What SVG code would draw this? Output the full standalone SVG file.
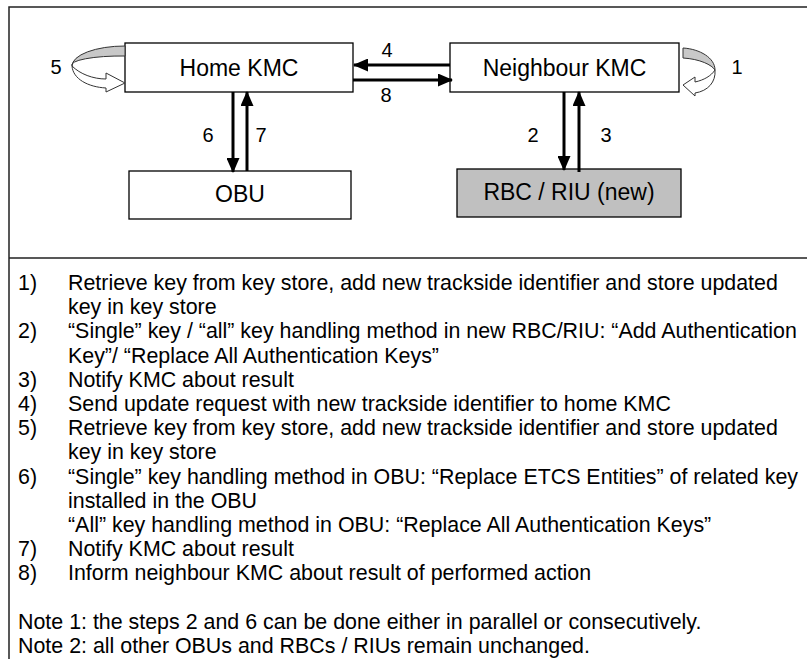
<svg xmlns="http://www.w3.org/2000/svg" width="807" height="659" viewBox="0 0 807 659">
<defs>
<marker id="ah" markerWidth="15" markerHeight="13" refX="14" refY="6.5" orient="auto" markerUnits="userSpaceOnUse" viewBox="0 0 15 13">
<path d="M0,0 L15,6.5 L0,13 Z" fill="#000"/>
</marker>
<style>
.frame{fill:none;stroke:#222;stroke-width:1.5}
.box{fill:#fff;stroke:#000;stroke-width:1.3}
.gray{fill:#c0c0c0}
.bt{font-family:"Liberation Sans",Arial,sans-serif;font-size:23px;fill:#000;text-anchor:middle}
.lb{font-family:"Liberation Sans",Arial,sans-serif;font-size:20px;fill:#000;text-anchor:middle}
.tx{font-family:"Liberation Sans",Arial,sans-serif;font-size:21.4px;fill:#000}
.conn{stroke:#000;stroke-width:3;fill:none}
.back{fill:#c8c8c8;stroke:#333;stroke-width:1}
.front{fill:#fff;stroke:#333;stroke-width:1}
</style>
</defs>
<g id="frame">
<path class="frame" d="M9,659 V7 H807 M9,258 H807"/>
</g>
<g id="home-kmc">
<rect class="box" x="125" y="43" width="228" height="49"/>
<text class="bt" x="239" y="76">Home KMC</text>
</g>
<g id="neighbour-kmc">
<rect class="box" x="450" y="43" width="229" height="49"/>
<text class="bt" x="564.5" y="76">Neighbour KMC</text>
</g>
<g id="obu">
<rect class="box" x="129" y="171" width="222" height="48"/>
<text class="bt" x="240" y="202">OBU</text>
</g>
<g id="rbc-riu">
<rect class="box gray" x="457" y="169" width="224" height="48"/>
<text class="bt" x="569" y="200">RBC / RIU (new)</text>
</g>
<g id="connectors">
<line class="conn" x1="450" y1="65" x2="354" y2="65" marker-end="url(#ah)"/>
<line class="conn" x1="353" y1="80" x2="452" y2="80" marker-end="url(#ah)"/>
<line class="conn" x1="233" y1="92" x2="233" y2="172" marker-end="url(#ah)"/>
<line class="conn" x1="247" y1="171" x2="247" y2="92" marker-end="url(#ah)"/>
<line class="conn" x1="564" y1="92" x2="564" y2="170" marker-end="url(#ah)"/>
<line class="conn" x1="579" y1="172" x2="579" y2="92" marker-end="url(#ah)"/>
<g id="loop5">
<path class="back" d="M125,46 A53,20 0 0 0 72,66 A50,9 0 0 1 125,56 Z"/>
<path class="front" d="M72,66 C73,79 88,87 106,88 L106,92 L125,83 L106,73 L106,79 C93,79 80,74 72,66 Z"/>
</g>
<g id="loop1">
<path class="back" d="M683,48 C700,49 715,58 715,70 C712,65 700,59 683,58 Z"/>
<path class="front" d="M715,70 C716,82 708,91 695,93 L695,96 L683,85 L695,77 L695,82 C704,80 711,76 715,70 Z"/>
</g>
</g>
<g id="labels">
<text class="lb" x="387" y="57">4</text>
<text class="lb" x="386" y="102">8</text>
<text class="lb" x="56" y="74">5</text>
<text class="lb" x="737" y="74">1</text>
<text class="lb" x="208" y="142">6</text>
<text class="lb" x="261" y="142">7</text>
<text class="lb" x="533" y="142">2</text>
<text class="lb" x="606" y="142">3</text>
</g>
<g id="legend" class="tx">
<text x="18" y="290">1)</text><text x="68" y="290">Retrieve key from key store, add new trackside identifier and store updated</text>
<text x="68" y="314.2">key in key store</text>
<text x="18" y="338.4">2)</text><text x="68" y="338.4">“Single” key / “all” key handling method in new RBC/RIU: “Add Authentication</text>
<text x="68" y="362.6">Key”/ “Replace All Authentication Keys”</text>
<text x="18" y="386.8">3)</text><text x="68" y="386.8">Notify KMC about result</text>
<text x="18" y="411">4)</text><text x="68" y="411">Send update request with new trackside identifier to home KMC</text>
<text x="18" y="435.2">5)</text><text x="68" y="435.2">Retrieve key from key store, add new trackside identifier and store updated</text>
<text x="68" y="459.4">key in key store</text>
<text x="18" y="483.6">6)</text><text x="68" y="483.6">“Single” key handling method in OBU: “Replace ETCS Entities” of related key</text>
<text x="68" y="507.8">installed in the OBU</text>
<text x="68" y="532">“All” key handling method in OBU: “Replace All Authentication Keys”</text>
<text x="18" y="556.2">7)</text><text x="68" y="556.2">Notify KMC about result</text>
<text x="18" y="580.4">8)</text><text x="68" y="580.4">Inform neighbour KMC about result of performed action</text>
<text x="18" y="628.8">Note 1: the steps 2 and 6 can be done either in parallel or consecutively.</text>
<text x="18" y="653">Note 2: all other OBUs and RBCs / RIUs remain unchanged.</text>
</g>
</svg>
